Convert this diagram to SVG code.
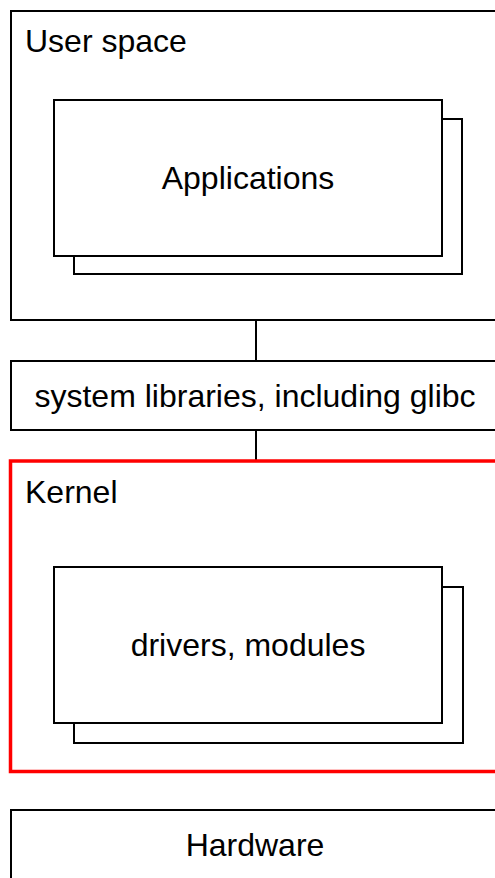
<svg xmlns="http://www.w3.org/2000/svg" width="495" height="878" viewBox="0 0 495 878">
<style>
.box{fill:#fff;stroke:#000;stroke-width:2}
.red{fill:#fff;stroke:#f00;stroke-width:3.5}
.t{font-family:"Liberation Sans",Arial,sans-serif;font-size:32px;fill:#000}
.c{text-anchor:middle}
.ln{stroke:#000;stroke-width:2;fill:none}
</style>
<rect width="495" height="878" fill="#fff"/>
<g id="connectors">
<line class="ln" x1="256" y1="320" x2="256" y2="361"/>
<line class="ln" x1="256" y1="430" x2="256" y2="461"/>
</g>
<g id="user-space">
<rect class="box" x="11" y="11" width="490" height="309"/>
<text class="t" x="25" y="52">User space</text>
</g>
<g id="applications">
<rect class="box" x="74" y="119" width="388" height="155"/>
<rect class="box" x="54" y="100" width="388" height="156"/>
<text class="t c" x="248" y="189">Applications</text>
</g>
<g id="system-libraries">
<rect class="box" x="11" y="361" width="490" height="69"/>
<text class="t c" x="255" y="407">system libraries, including glibc</text>
</g>
<g id="kernel">
<rect class="red" x="10.5" y="461" width="492" height="310.5"/>
<text class="t" x="25" y="503">Kernel</text>
</g>
<g id="drivers">
<rect class="box" x="74" y="587" width="389" height="156"/>
<rect class="box" x="54" y="567" width="388" height="156"/>
<text class="t c" x="248" y="656">drivers, modules</text>
</g>
<g id="hardware">
<rect class="box" x="11" y="810" width="490" height="80"/>
<text class="t c" x="255" y="856">Hardware</text>
</g>
</svg>
